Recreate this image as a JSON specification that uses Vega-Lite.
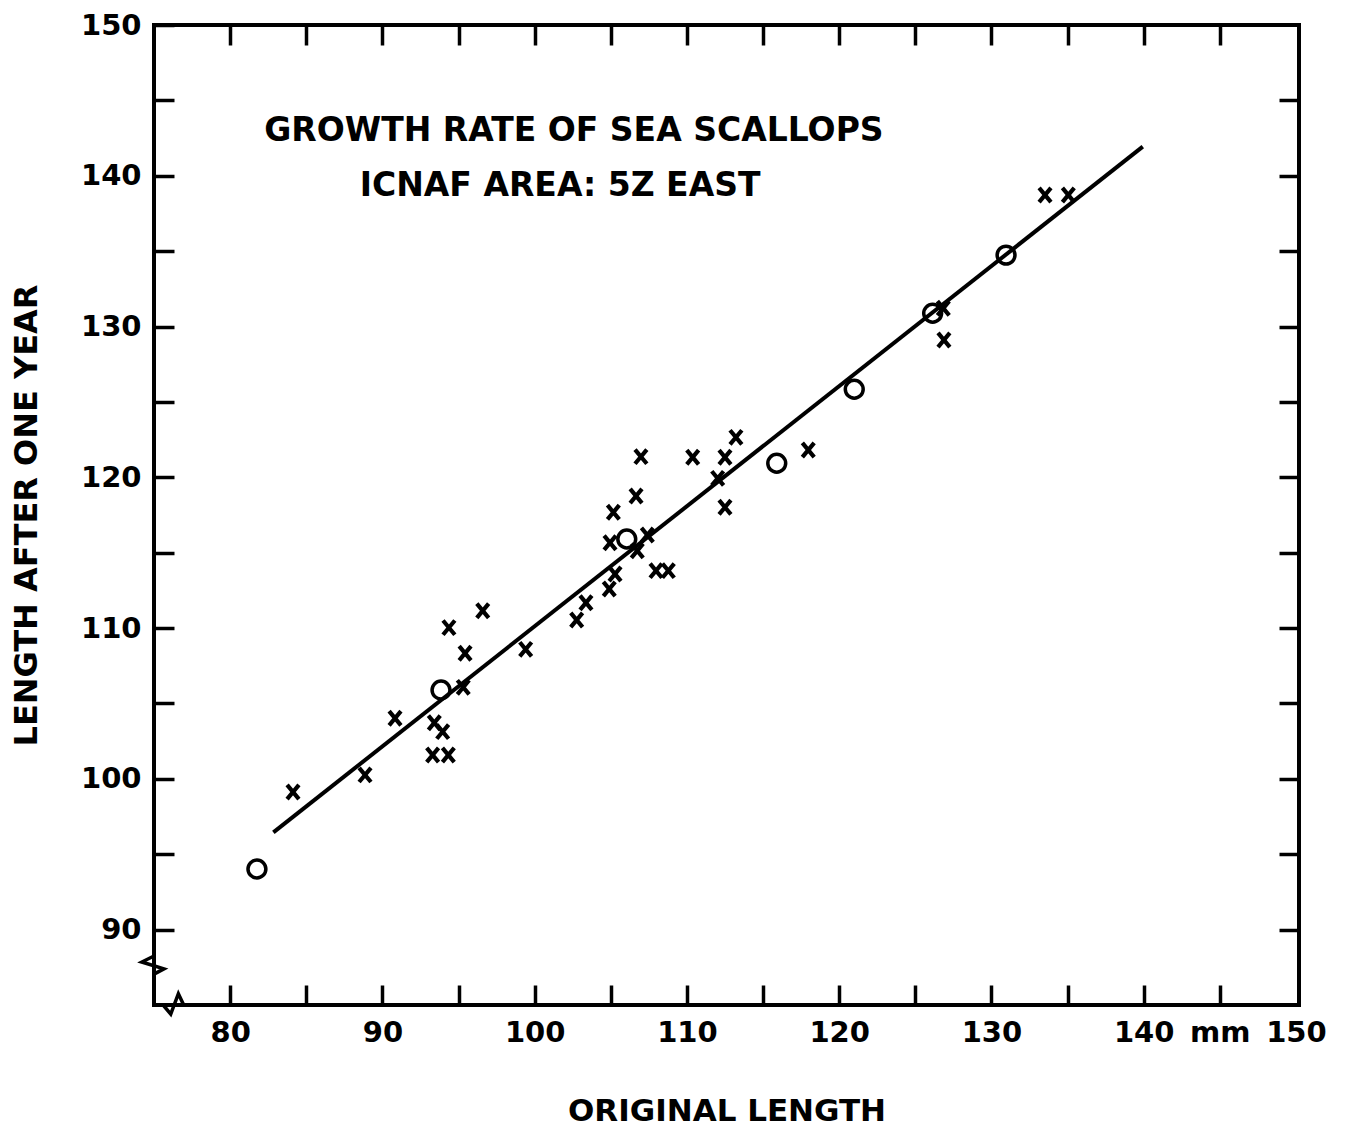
{
  "$schema": "https://vega.github.io/schema/vega-lite/v6.json",
  "width": 1145,
  "height": 980,
  "autosize": "none",
  "padding": {"left": 154, "top": 25, "right": 46, "bottom": 129},
  "background": "white",
  "config": {
    "view": {"stroke": "black", "strokeWidth": 4},
    "font": "DejaVu Sans",
    "axis": {
      "grid": false,
      "domain": false,
      "tickColor": "black",
      "tickWidth": 3.5,
      "tickSize": -20,
      "labelColor": "black",
      "labelFont": "DejaVu Sans",
      "labelFontSize": 29,
      "labelFontWeight": "bold",
      "labelFlush": false,
      "labelOverlap": false,
      "labelBound": false,
      "titleColor": "black",
      "titleFont": "DejaVu Sans",
      "titleFontWeight": "bold"
    }
  },
  "datasets": {
    "fit": [
      {"original": 82.84, "after": 96.45},
      {"original": 139.94, "after": 141.93}
    ],
    "means": [
      {"original": 81.76, "after": 94.02},
      {"original": 93.85, "after": 105.89},
      {"original": 106.05, "after": 115.91},
      {"original": 115.90, "after": 120.93},
      {"original": 120.99, "after": 125.84},
      {"original": 126.14, "after": 130.88},
      {"original": 130.96, "after": 134.74}
    ],
    "obs": [
      {"original": 84.13, "after": 99.13},
      {"original": 88.86, "after": 100.26},
      {"original": 90.83, "after": 104.02},
      {"original": 93.41, "after": 103.72},
      {"original": 93.96, "after": 103.13},
      {"original": 93.30, "after": 101.58},
      {"original": 94.33, "after": 101.58},
      {"original": 95.31, "after": 106.07},
      {"original": 95.43, "after": 108.33},
      {"original": 94.37, "after": 110.03},
      {"original": 96.59, "after": 111.15},
      {"original": 99.41, "after": 108.59},
      {"original": 102.76, "after": 110.54},
      {"original": 103.37, "after": 111.68},
      {"original": 104.90, "after": 112.59},
      {"original": 105.28, "after": 113.59},
      {"original": 104.95, "after": 115.66},
      {"original": 106.74, "after": 115.13},
      {"original": 107.40, "after": 116.17},
      {"original": 105.17, "after": 117.68},
      {"original": 106.66, "after": 118.76},
      {"original": 106.98, "after": 121.37},
      {"original": 107.97, "after": 113.81},
      {"original": 108.78, "after": 113.81},
      {"original": 110.38, "after": 121.33},
      {"original": 112.50, "after": 121.33},
      {"original": 113.22, "after": 122.65},
      {"original": 112.02, "after": 119.93},
      {"original": 112.50, "after": 118.01},
      {"original": 117.97, "after": 121.81},
      {"original": 126.84, "after": 131.21},
      {"original": 126.88, "after": 129.11},
      {"original": 133.52, "after": 138.72},
      {"original": 135.05, "after": 138.72}
    ],
    "notes": [
      {"label": "GROWTH RATE OF SEA SCALLOPS", "original": 102.58, "after": 142.97},
      {"label": "ICNAF AREA: 5Z EAST", "original": 101.67, "after": 139.32}
    ],
    "breaks": [
      {"seg": "y", "ord": 1, "original": 75.0, "after": 88.25},
      {"seg": "y", "ord": 2, "original": 74.2, "after": 87.85},
      {"seg": "y", "ord": 3, "original": 75.65, "after": 87.4},
      {"seg": "y", "ord": 4, "original": 75.0, "after": 87.05},
      {"seg": "x", "ord": 1, "original": 75.6, "after": 85.0},
      {"seg": "x", "ord": 2, "original": 76.1, "after": 84.4},
      {"seg": "x", "ord": 3, "original": 76.6, "after": 85.75},
      {"seg": "x", "ord": 4, "original": 76.95, "after": 85.0}
    ]
  },
  "layer": [
    {
      "data": {"name": "fit"},
      "mark": {"type": "line", "color": "black", "strokeWidth": 4},
      "encoding": {
        "x": {
          "field": "original", "type": "quantitative",
          "scale": {"domain": [75, 150.2], "nice": false, "zero": false},
          "axis": {
            "orient": "bottom",
            "values": [80, 85, 90, 95, 100, 105, 110, 115, 120, 125, 130, 135, 140, 145, 150],
            "labelExpr": "datum.value == 145 ? 'mm' : (datum.value % 10 == 0 ? datum.label : '')",
            "labelPadding": 33,
            "tickOpacity": {"condition": {"test": "datum.value == 150", "value": 0}, "value": 1},
            "title": "ORIGINAL LENGTH",
            "titleFontSize": 31,
            "titlePadding": 49
          }
        },
        "y": {
          "field": "after", "type": "quantitative",
          "scale": {"domain": [85, 150], "nice": false, "zero": false},
          "axis": {
            "orient": "left",
            "values": [90, 95, 100, 105, 110, 115, 120, 125, 130, 135, 140, 145, 150],
            "labelExpr": "datum.value % 10 == 0 ? datum.label : ''",
            "labelPadding": 33,
            "title": "LENGTH AFTER ONE YEAR",
            "titleFontSize": 32,
            "titlePadding": 37
          }
        }
      }
    },
    {
      "data": {"name": "fit"},
      "mark": {"type": "line", "opacity": 0},
      "encoding": {
        "x": {
          "field": "original", "type": "quantitative",
          "axis": {
            "orient": "top",
            "values": [80, 85, 90, 95, 100, 105, 110, 115, 120, 125, 130, 135, 140, 145],
            "labels": false,
            "title": null
          }
        },
        "y": {
          "field": "after", "type": "quantitative",
          "axis": {
            "orient": "right",
            "values": [90, 95, 100, 105, 110, 115, 120, 125, 130, 135, 140, 145],
            "labels": false,
            "title": null
          }
        }
      }
    },
    {
      "data": {"name": "means"},
      "mark": {"type": "point", "shape": "circle", "filled": false, "stroke": "black", "strokeWidth": 3.5, "size": 320, "opacity": 1},
      "encoding": {
        "x": {"field": "original", "type": "quantitative", "axis": null},
        "y": {"field": "after", "type": "quantitative", "axis": null}
      }
    },
    {
      "data": {"name": "obs"},
      "mark": {"type": "point", "shape": "M-1,-1.2L1,1.2M1,-1.2L-1,1.2", "filled": false, "stroke": "black", "strokeWidth": 4.2, "size": 140, "opacity": 1},
      "encoding": {
        "x": {"field": "original", "type": "quantitative", "axis": null},
        "y": {"field": "after", "type": "quantitative", "axis": null}
      }
    },
    {
      "data": {"name": "notes"},
      "mark": {"type": "text", "font": "DejaVu Sans", "fontSize": 33, "fontWeight": "bold", "align": "center", "baseline": "middle", "color": "black"},
      "encoding": {
        "x": {"field": "original", "type": "quantitative", "axis": null},
        "y": {"field": "after", "type": "quantitative", "axis": null},
        "text": {"field": "label", "type": "nominal"}
      }
    },
    {
      "data": {"name": "breaks"},
      "mark": {"type": "line", "color": "black", "strokeWidth": 3.5, "clip": false},
      "encoding": {
        "x": {"field": "original", "type": "quantitative", "axis": null},
        "y": {"field": "after", "type": "quantitative", "axis": null},
        "detail": {"field": "seg", "type": "nominal"},
        "order": {"field": "ord", "type": "quantitative"}
      }
    }
  ],
  "resolve": {"axis": {"x": "independent", "y": "independent"}}
}
